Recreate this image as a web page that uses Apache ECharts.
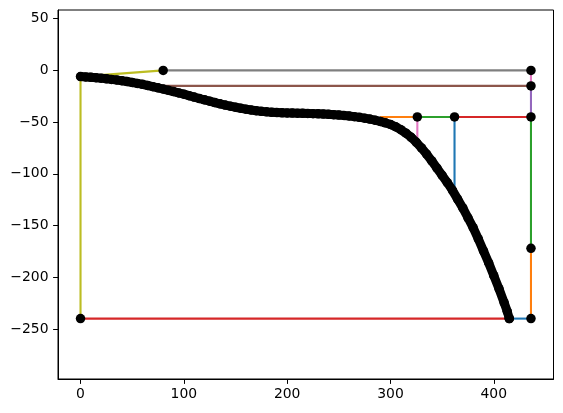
<!DOCTYPE html>
<html>
<head>
<meta charset="utf-8">
<script src="https://cdn.jsdelivr.net/npm/echarts@6/dist/echarts.min.js"></script>
<style>html,body{margin:0;padding:0;background:#fff}#c{width:563px;height:413px}</style>
</head>
<body>
<div id="c"></div>
<script>
const xTicks = [0, 100, 200, 300, 400];
const yTicks = [-250, -200, -150, -100, -50, 0, 50];

const curveX = [0,5,10,15,20,25,30,35,40,45,50,55,60,65,70,75,80,85,90,95,100,105,110,115,120,125,130,135,140,145,150,155,160,165,170,175,180,185,190,195,200,205,210,215,220,225,230,235,240,245,250,255,260,265,270,275,280,285,290,295,300,305,310,315,320,325,330,335,340,345,350,355,360,365,370,375,380,385,390,395,400,405,410,413,415];
const curveY = [-6,-6.3,-6.7,-7.1,-7.5,-8.1,-8.7,-9.3,-10,-10.8,-11.7,-12.6,-13.5,-14.6,-15.7,-16.8,-18,-19.2,-20.5,-21.8,-23,-24.4,-25.8,-27.2,-28.5,-29.8,-31.1,-32.3,-33.5,-34.6,-35.6,-36.6,-37.5,-38.3,-39,-39.6,-40.1,-40.5,-40.8,-41,-41.2,-41.3,-41.4,-41.5,-41.6,-41.8,-42,-42.2,-42.5,-42.8,-43.2,-43.6,-44.1,-44.7,-45.4,-46.2,-47.1,-48.1,-49.3,-50.7,-52.3,-54.5,-57.3,-60.7,-64.7,-69.5,-75,-81,-87.5,-94.5,-101.5,-108.5,-116,-124.5,-133,-142.5,-152,-163,-174.5,-186,-198.5,-211,-224.5,-233,-240];

const markerX = [80, 436, 436, 436, 326, 362, 436, 436, 415, 0];
const markerY = [0, 0, -15, -45, -45, -45, -172, -240, -240, -240];

const oliveLine  = [[0,-240],[0,-6],[80,0]];
const grayLine   = [[80,0],[436,0]];
const pinkLineA  = [[436,0],[436,-15]];
const pinkLineB  = [[326,-45],[326,-66]];
const purpleLine = [[436,-15],[436,-45]];
const brownLine  = [[70,-15],[436,-15]];
const redLineA   = [[362,-45],[436,-45]];
const redLineB   = [[0,-240],[415,-240]];
const greenLineA = [[326,-45],[362,-45]];
const greenLineB = [[436,-45],[436,-172]];
const orangeLineA= [[290,-45],[326,-45]];
const orangeLineB= [[436,-172],[436,-240]];
const blueLineA  = [[362,-45],[362,-116]];
const blueLineB  = [[415,-240],[436,-240]];

const segs = [
  ['#bcbd22', oliveLine], ['#7f7f7f', grayLine], ['#e377c2', pinkLineA], ['#e377c2', pinkLineB],
  ['#9467bd', purpleLine], ['#8c564b', brownLine], ['#d62728', redLineA], ['#d62728', redLineB],
  ['#2ca02c', greenLineA], ['#2ca02c', greenLineB], ['#ff7f0e', orangeLineA], ['#ff7f0e', orangeLineB],
  ['#1f77b4', blueLineA], ['#1f77b4', blueLineB]
];

const series = segs.map(([c, d]) => ({
  type: 'line', data: d, symbol: 'none', silent: true,
  lineStyle: { color: c, width: 2.1 }, z: 2
}));
series.push({
  type: 'line', data: curveX.map((x, i) => [x, curveY[i]]),
  symbol: 'circle', symbolSize: 9.5, itemStyle: { color: '#000' },
  lineStyle: { color: '#000', width: 9, cap: 'round', join: 'round' }, z: 3
});
series.push({
  type: 'scatter', data: markerX.map((x, i) => [x, markerY[i]]),
  symbol: 'circle', symbolSize: 9.5, itemStyle: { color: '#000', opacity: 1 }, z: 4
});

const fmt = v => String(v).replace('-', '\u2212');
const chart = echarts.init(document.getElementById('c'), null, { renderer: 'canvas' });
chart.setOption({
  animation: false,
  backgroundColor: '#fff',
  grid: { left: 58, right: 9.5, top: 10, bottom: 34, show: true, borderColor: '#000', borderWidth: 1, backgroundColor: 'transparent' },
  xAxis: {
    type: 'value', min: -21.8, max: 457.8,
    splitLine: { show: false },
    axisLine: { show: true, onZero: false, lineStyle: { color: '#000', width: 1 } },
    axisTick: { show: true, length: 4.9, lineStyle: { color: '#000' }, customValues: xTicks },
    axisLabel: { customValues: xTicks, formatter: fmt, color: '#000', fontSize: 13.9, fontFamily: 'DejaVu Sans', margin: 8.5 }
  },
  yAxis: {
    type: 'value', min: -298.4, max: 58.4,
    splitLine: { show: false },
    axisLine: { show: true, onZero: false, lineStyle: { color: '#000', width: 1 } },
    axisTick: { show: true, length: 4.9, lineStyle: { color: '#000' }, customValues: yTicks },
    axisLabel: { customValues: yTicks, formatter: fmt, color: '#000', fontSize: 13.9, fontFamily: 'DejaVu Sans', margin: 9.5 }
  },
  series: series
});
</script>
</body>
</html>
